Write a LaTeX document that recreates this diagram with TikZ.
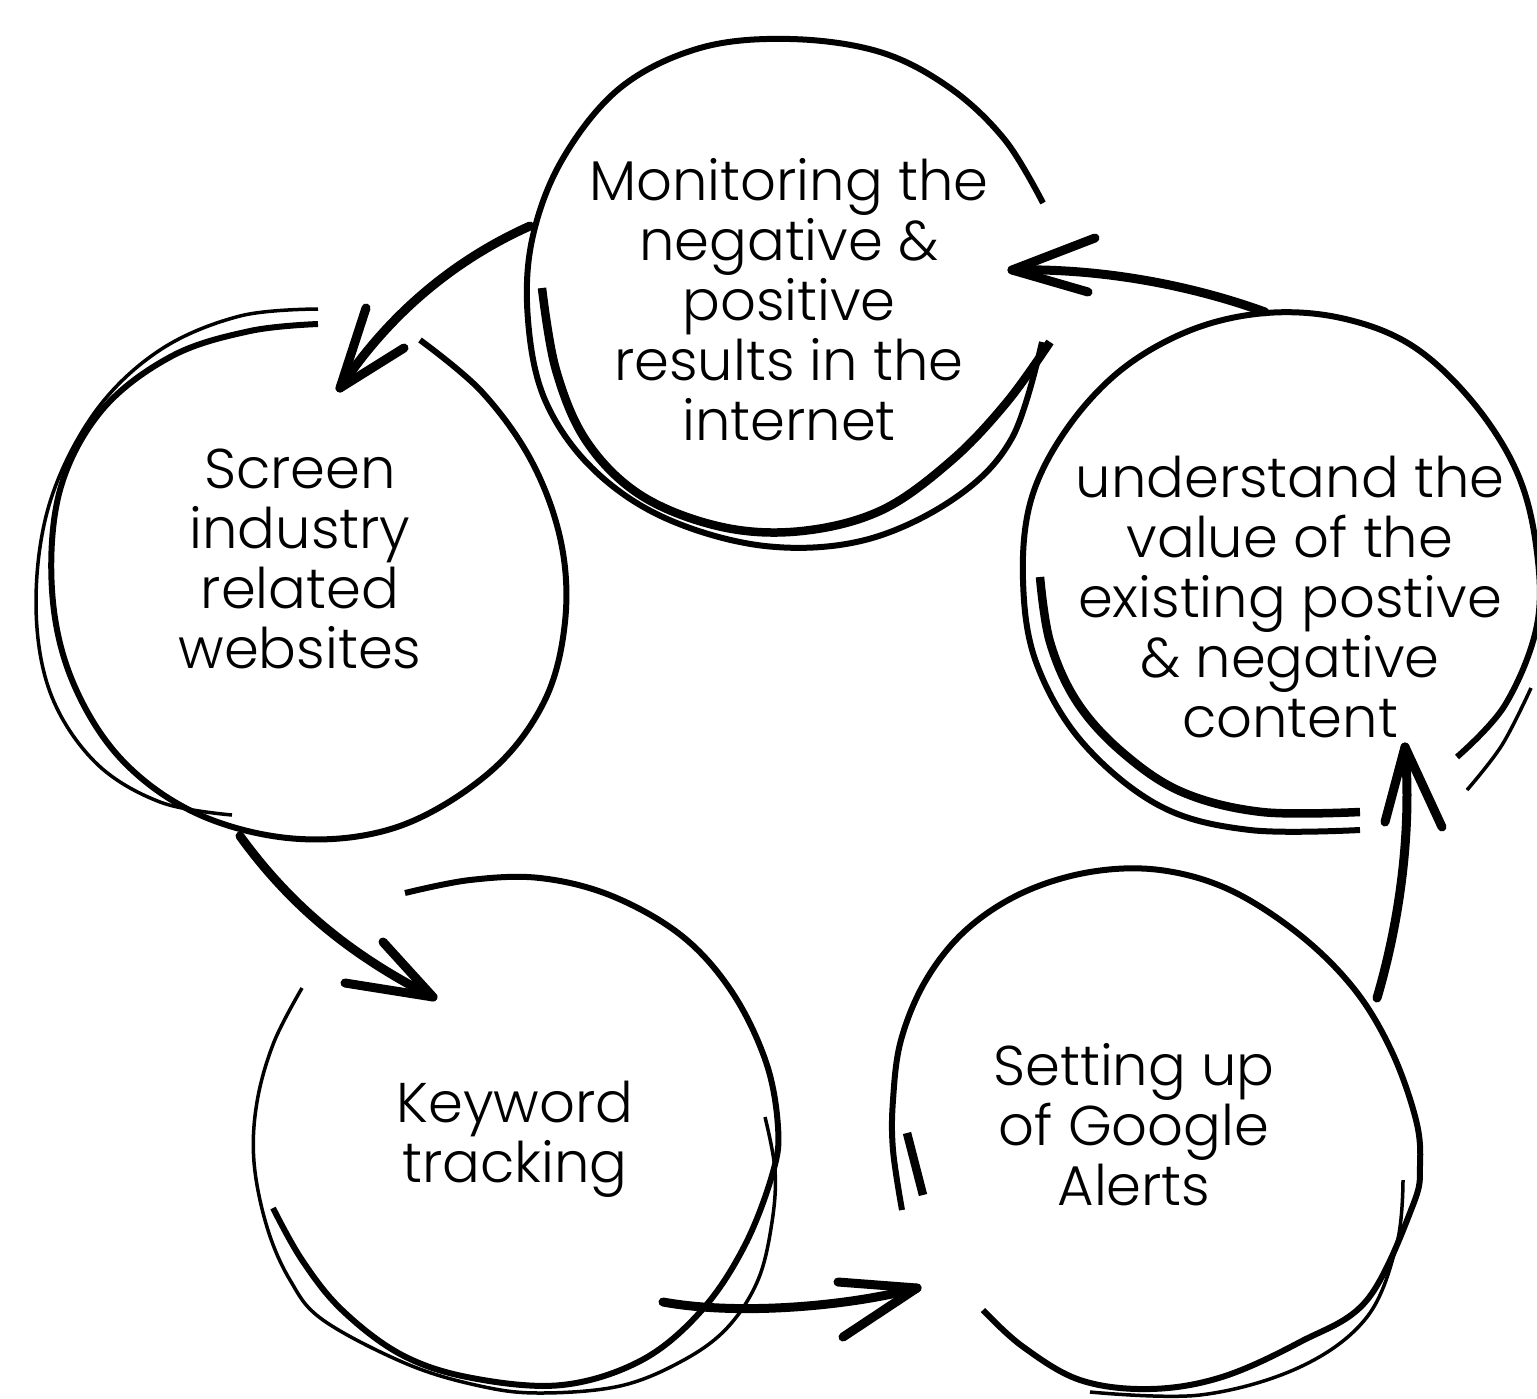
\documentclass[tikz,border=0pt]{standalone}
\usepackage{fontspec}
\setmainfont{Poppins}[UprightFont=* Light]
\begin{document}
\begin{tikzpicture}[x=1pt,y=-1pt,
  mainline/.style={line width=6pt, line cap=butt, line join=round},
  thickline/.style={line width=8.5pt, line cap=butt, line join=round},
  thinline/.style={line width=3.5pt, line cap=butt, line join=round},
  arrowline/.style={line width=9pt, line cap=round, line join=round},
  lbl/.style={font=\fontsize{56}{60}\selectfont, align=center, inner sep=0pt, anchor=base}]
\useasboundingbox (0,0) rectangle (1537,1398);

% ---------- texts ----------
\node[lbl] (monitor) at (789,440) {Monitoring the\\negative \&\\positive\\results in the\\internet};
\node[lbl] (screen) at (300,668) {Screen\\industry\\related\\websites};
\node[lbl] (keyword) at (515,1182) {Keyword\\tracking};
\node[lbl] (alerts) at (1134,1205) {Setting up\\of Google\\Alerts};
\node[lbl] (value) at (1290,737) {understand the\\value of the\\existing postive\\\& negative\\content};

% ---------- top circle ----------
\draw[mainline] plot[smooth, tension=0.6] coordinates {(1043,203) (1005,140) (950,88) (880,52) (790,39) (700,48) (620,88) (562,160) (532,240) (528,320) (545,400) (592,468) (665,518) (765,546) (865,540) (955,498) (1012,438) (1042,342)};
\draw[thickline] plot[smooth, tension=0.6] coordinates {(542,288) (556,370) (587,442) (642,496) (722,527) (802,531) (882,510) (952,460) (1007,402) (1050,342)};

% ---------- left circle ----------
\draw[mainline] plot[smooth, tension=0.6] coordinates {(420,340) (482,392) (532,462) (561,542) (565,622) (544,702) (490,772) (400,826) (300,839) (200,815) (122,760) (72,680) (52,590) (60,490) (102,410) (172,356) (250,331) (318,324)};
\draw[thinline] plot[smooth, tension=0.6] coordinates {(318,309) (240,316) (160,350) (95,412) (50,502) (36,602) (50,692) (95,762) (160,802) (232,815)};

% ---------- keyword circle ----------
\draw[mainline] plot[smooth, tension=0.6] coordinates {(405,893) (470,880) (540,878) (612,896) (682,936) (732,992) (766,1062) (778,1127) (773,1172) (745,1245) (702,1310) (642,1360) (562,1385) (472,1378) (402,1355) (342,1310) (302,1260) (273,1208)};
\draw[thinline] plot[smooth, tension=0.6] coordinates {(302,988) (274,1042) (257,1102) (254,1162) (267,1227) (290,1280) (323,1320) (407,1364) (480,1386) (540,1393) (620,1386) (682,1361) (727,1328) (758,1280) (772,1222) (775,1170) (765,1117)};

% ---------- alerts circle ----------
\draw[mainline] plot[smooth, tension=0.6] coordinates {(902,1210) (893,1150) (893,1100) (901,1040) (926,980) (966,930) (1022,893) (1090,872) (1160,870) (1230,890) (1300,935) (1355,990) (1392,1052) (1416,1120) (1420,1165) (1413,1205) (1367,1300) (1300,1342) (1222,1377) (1150,1389) (1080,1380) (1022,1346) (983,1310)};
\draw[thinline] plot[smooth, tension=0.6] coordinates {(1403,1180) (1397,1243) (1367,1317) (1300,1367) (1200,1395) (1090,1392)};
\draw[thickline] (907,1133) -- (923,1195);

% ---------- value circle ----------
\draw[mainline] plot[smooth, tension=0.6] coordinates {(1360,830) (1250,830) (1160,806) (1082,742) (1036,662) (1023,580) (1031,500) (1066,430) (1121,370) (1191,330) (1266,313) (1341,318) (1411,345) (1471,400) (1516,470) (1536,545) (1537,625) (1505,705) (1457,757)};
\draw[thickline] plot[smooth, tension=0.6] coordinates {(1040,577) (1050,642) (1077,702) (1122,752) (1182,792) (1262,812) (1360,812)};
\draw[thinline] plot[smooth, tension=0.6] coordinates {(1531,688) (1502,745) (1467,790)};

% ---------- arrows ----------
\coordinate (a1s) at (530,226); \coordinate (a1t) at (340,388);
\coordinate (a1l) at (366,308); \coordinate (a1r) at (404,348);
\draw[arrowline] (a1s) .. controls (465,255) and (395,305) .. (a1t);
\draw[arrowline] (a1l) -- (a1t) -- (a1r);

\coordinate (a2s) at (240,836); \coordinate (a2t) at (433,997);
\coordinate (a2l) at (383,942); \coordinate (a2r) at (345,983);
\draw[arrowline] (a2s) .. controls (290,905) and (350,955) .. (a2t);
\draw[arrowline] (a2l) -- (a2t) -- (a2r);

\coordinate (a3s) at (663,1302); \coordinate (a3t) at (917,1288);
\coordinate (a3l) at (838,1282); \coordinate (a3r) at (843,1337);
\draw[arrowline] (a3s) .. controls (740,1316) and (850,1306) .. (a3t);
\draw[arrowline] (a3l) -- (a3t) -- (a3r);

\coordinate (a4s) at (1377,998); \coordinate (a4t) at (1405,747);
\coordinate (a4l) at (1385,822); \coordinate (a4r) at (1442,827);
\draw[arrowline] (a4s) .. controls (1400,920) and (1412,830) .. (a4t);
\draw[arrowline] (a4l) -- (a4t) -- (a4r);

\coordinate (a5s) at (1265,312); \coordinate (a5t) at (1012,270);
\coordinate (a5l) at (1095,238); \coordinate (a5r) at (1088,292);
\draw[arrowline] (a5s) .. controls (1185,283) and (1095,268) .. (a5t);
\draw[arrowline] (a5l) -- (a5t) -- (a5r);
\end{tikzpicture}
\end{document}
